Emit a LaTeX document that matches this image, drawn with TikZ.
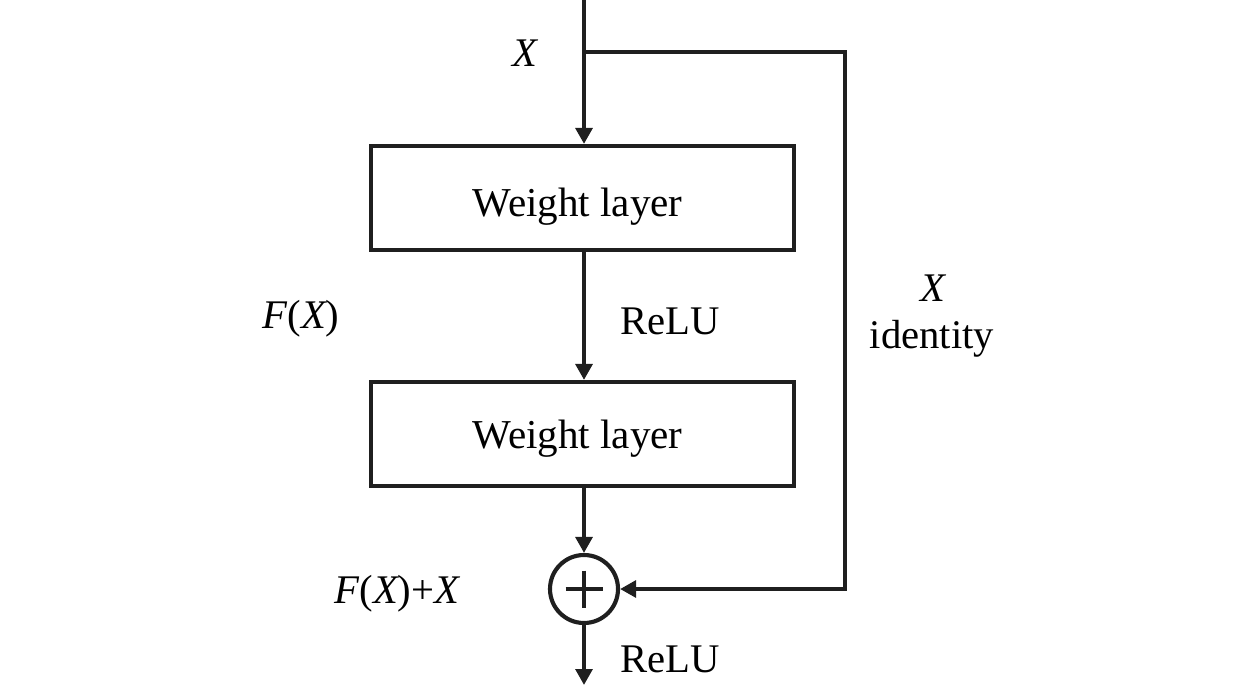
\documentclass[tikz,border=0pt]{standalone}
\usepackage{fontspec}
\setmainfont{Liberation Serif}
\usetikzlibrary{arrows.meta}
\begin{document}
\begin{tikzpicture}[x=0.75pt,y=-0.75pt,
  line width=3.1pt, draw=black!88,
  arr/.style={-{Triangle[length=12pt,width=12.5pt]}},
  wbox/.style={draw, line width=3.1pt, minimum width=317pt, minimum height=78pt, inner sep=0pt, font=\fontsize{30.8}{36}\selectfont},
  lbl/.style={font=\fontsize{30.5}{36}\selectfont, inner sep=0pt},
  sumnode/.style={draw, circle, line width=3.1pt, minimum size=51pt, inner sep=0pt}]
\useasboundingbox (0,0) rectangle (1259,685);
\coordinate (top) at (584,0);
\coordinate (br) at (584,52);
\coordinate (br2) at (845,52);
\coordinate (br3) at (845,589);
\coordinate (out) at (584,685);
\node[wbox] (w1) at (582.5,198) {\raisebox{-14pt}[0pt][0pt]{Weight layer\hspace{7.5pt}}};
\node[wbox] (w2) at (582.5,434) {\raisebox{-10.5pt}[0pt][0pt]{Weight layer\hspace{7.5pt}}};
\node[sumnode] (s) at (584,589) {};
\draw[line width=2.4pt] (565.5,589) -- (602.5,589) (584,570.5) -- (584,607.5);
\draw[arr] (top) -- (w1.north -| top);
\draw[arr] (w1.south -| top) -- (w2.north -| top);
\draw[arr] (w2.south -| top) -- (s.north);
\draw[arr] (s.south) -- (out);
\draw[arr] (br) -- (br2) -- (br3) -- (s.east);
\node[lbl] (lx) at (525,53) {\itshape X};
\node[lbl] (lfx) at (301,319) {\itshape F\upshape(\itshape X\upshape)};
\node[lbl] (lr1) at (670,321) {ReLU};
\node[lbl] (lr2) at (670,659) {ReLU};
\node[lbl] (lx2) at (933,288) {\itshape X};
\node[lbl] (lid) at (932,339) {identity};
\node[lbl] (lfxx) at (397,594) {\itshape F\upshape(\itshape X\upshape)+\itshape X};
\end{tikzpicture}
\end{document}
